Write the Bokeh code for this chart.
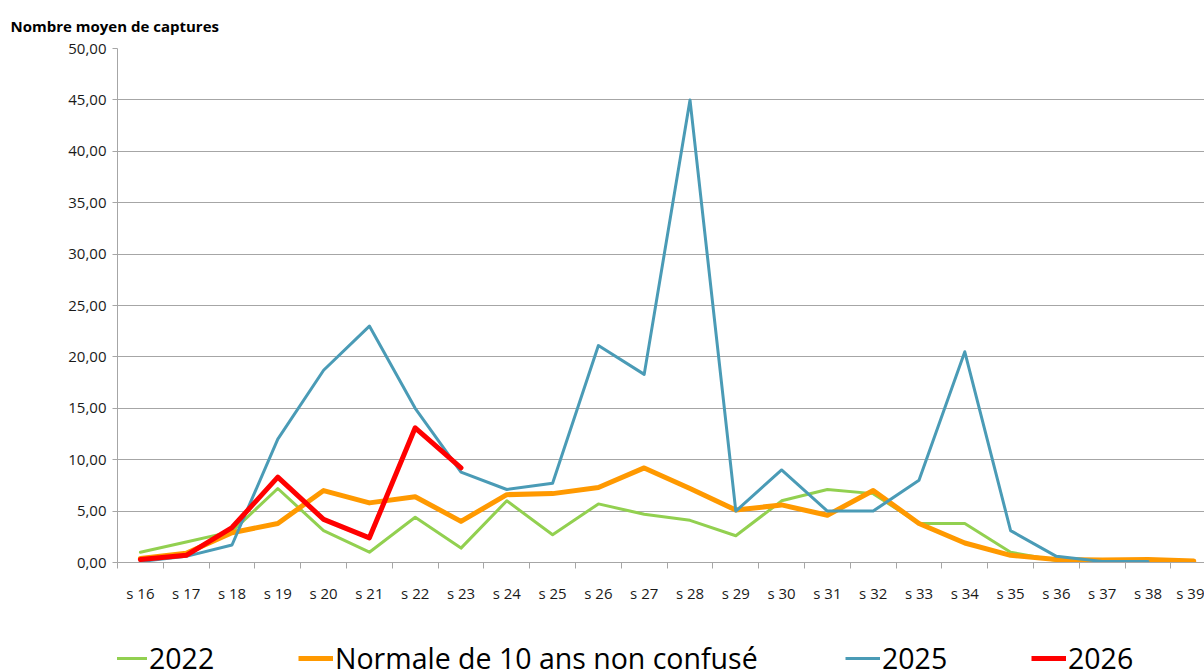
from bokeh.plotting import figure
from bokeh.models import Range1d, FixedTicker, Legend, LegendItem, Title
from bokeh.layouts import column
from bokeh.embed import file_html
from bokeh.resources import INLINE

# ---- data ----
weeks = ["s 16", "s 17", "s 18", "s 19", "s 20", "s 21", "s 22", "s 23", "s 24", "s 25",
         "s 26", "s 27", "s 28", "s 29", "s 30", "s 31", "s 32", "s 33", "s 34", "s 35",
         "s 36", "s 37", "s 38", "s 39"]
v2022 = [1.0, 2.0, 3.0, 7.2, 3.1, 1.0, 4.4, 1.4, 6.0, 2.7, 5.7, 4.7, 4.1, 2.6, 6.0, 7.1,
         6.7, 3.8, 3.8, 1.0, 0.2, 0.1, 0.1]
vnorm = [0.4, 0.9, 2.9, 3.8, 7.0, 5.8, 6.4, 4.0, 6.6, 6.7, 7.3, 9.2, 7.2, 5.1, 5.6, 4.6,
         7.0, 3.8, 1.9, 0.7, 0.3, 0.25, 0.3, 0.15]
v2025 = [0.1, 0.6, 1.7, 12.0, 18.7, 23.0, 15.0, 8.8, 7.1, 7.7, 21.1, 18.3, 45.0, 5.0, 9.0,
         5.0, 5.0, 8.0, 20.5, 3.1, 0.6, 0.1, 0.1]
v2026 = [0.3, 0.7, 3.4, 8.3, 4.2, 2.4, 13.1, 9.2]
y_ticks = [0, 5, 10, 15, 20, 25, 30, 35, 40, 45, 50]
y_tick_labels = ["0,00", "5,00", "10,00", "15,00", "20,00", "25,00", "30,00", "35,00",
                 "40,00", "45,00", "50,00"]
series_names = ["2022", "Normale de 10 ans non confusé", "2025", "2026"]

FONT = "Open Sans"
GRID = "#A6A6A6"
TXT = "#1a1a1a"

W = 1204
H_MAIN, H_LEG = 628, 42
LEFT, RIGHT, TOP = 117, 0, 48
FRAME_BOTTOM = 562
frame_w = W - LEFT - RIGHT
cat_w = 45.8
x_end = -0.5 + frame_w / cat_w

p = figure(width=W, height=H_MAIN, output_backend="svg", toolbar_location=None,
           x_range=Range1d(-0.5, x_end), y_range=Range1d(0, 50),
           min_border_left=LEFT, min_border_right=RIGHT, min_border_top=TOP,
           min_border_bottom=H_MAIN - FRAME_BOTTOM)
p.outline_line_color = None
p.border_fill_color = "white"

# title
t = Title(text="Nombre moyen de captures", align="left", offset=-(LEFT - 10),
          text_font=FONT, text_font_size="15px", text_font_style="bold",
          text_color="#000000", standoff=26)
p.add_layout(t, "above")

# y axis
ya = p.yaxis[0]
ya.ticker = FixedTicker(ticks=y_ticks, minor_ticks=[])
ya.major_label_overrides = {t_: l for t_, l in zip(y_ticks, y_tick_labels)}
ya.axis_line_color = GRID
ya.major_tick_line_color = GRID
ya.major_tick_out = 5
ya.major_tick_in = 0
ya.minor_tick_out = 0
ya.major_label_standoff = 6
ya.major_label_text_font = FONT
ya.major_label_text_font_size = "15px"
ya.major_label_text_color = TXT

# x axis: labels at centres, ticks at boundaries
n = len(weeks)
centers = list(range(n))
bounds = [i - 0.5 for i in range(n + 1)]
xa = p.xaxis[0]
xa.ticker = FixedTicker(ticks=centers, minor_ticks=bounds)
xa.major_label_overrides = {i: w for i, w in enumerate(weeks)}
xa.axis_line_color = GRID
xa.major_tick_out = 0
xa.major_tick_in = 0
xa.minor_tick_out = 6
xa.minor_tick_in = 0
xa.minor_tick_line_color = GRID
xa.major_label_standoff = 14
xa.major_label_text_font = FONT
xa.major_label_text_font_size = "15px"
xa.major_label_text_color = TXT

p.ygrid.grid_line_color = GRID
p.ygrid.grid_line_width = 1.2
p.xgrid.grid_line_color = None

colors = ["#92D050", "#FF9900", "#4A9BB6", "#FF0000"]
widths = [3, 5, 3, 5]
data = [v2022, vnorm, v2025, v2026]
for vals, c, w in zip(data, colors, widths):
    p.line(list(range(len(vals))), vals, line_color=c, line_width=w,
           line_join="round", line_cap="round")

# legend strip (hidden copies of the series provide the legend glyphs)
lf = figure(width=W, height=H_LEG, output_backend="svg", toolbar_location=None,
            x_range=Range1d(0, 1), y_range=Range1d(0, 1),
            min_border_left=LEFT, min_border_right=0, min_border_top=0, min_border_bottom=0,
            x_axis_type=None, y_axis_type=None)
lf.outline_line_color = None
lf.xgrid.grid_line_color = None
lf.ygrid.grid_line_color = None
leg_x = [112, 298, 845, 1031]
for name, vals, c, w, lx in zip(series_names, data, colors, widths, leg_x):
    r = lf.line(list(range(len(vals))), vals, line_color=c, line_width=w, visible=False)
    lg = Legend(items=[LegendItem(label=name, renderers=[r])],
                location=(lx - LEFT, H_LEG - 33.5 - 15), orientation="horizontal",
                glyph_width=35, glyph_height=30, label_height=30,
                label_standoff=2, padding=0, margin=0, spacing=0,
                border_line_color=None, background_fill_alpha=0,
                inactive_fill_alpha=0,
                label_text_font=FONT, label_text_font_size="28.5px",
                label_text_color="#000000")
    lf.add_layout(lg, "center")

open("out.html", "w").write(file_html(column(p, lf, spacing=0), INLINE))
